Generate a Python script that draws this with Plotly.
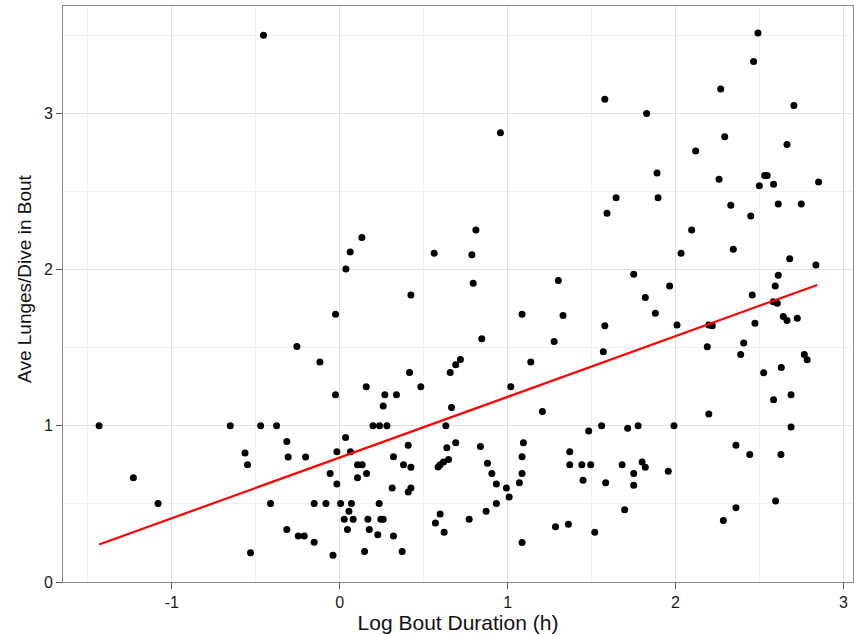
import plotly.graph_objects as go

log_bout_duration = [
    -0.454, 1.579, 0.957, 1.592, 0.132, 0.0625, 0.037, 0.811, 0.5625, 0.787, 0.795, 1.302, 0.424,
    2.491, 2.465, 2.269, 1.828, 2.705, 2.293, 2.120, 2.664, 1.890, 2.259, 2.531, 2.546, 2.499, 2.584,
    2.852, 1.646, 1.896, 2.329, 2.612, 2.749, 2.448, 2.096, 2.033, 2.344, 2.680, 2.836, 1.751, 2.612,
    1.965, 2.594, 1.820, 2.457,
    -0.025, -0.255, -0.118, -0.025, -1.433, -0.652, -0.471, -0.376, -0.315, -0.564, -0.307, -0.203,
    -0.549, -0.017, -0.057, -0.017, -1.229, -1.082, -0.412, -0.152, -0.082, 0.005, -0.315, -0.247,
    -0.211, -0.152, -0.531, -0.040,
    1.086, 1.330, 1.579, 0.846, 1.277, 1.570, 0.719, 0.691, 0.658, 0.416, 1.138, 0.158, 0.483, 1.019,
    0.269, 0.338, 0.259, 0.666, 1.207, 0.198, 0.237, 0.281, 0.632, 1.560, 1.483, 0.035, 0.408, 0.838,
    1.094, 0.691, 0.064, 1.370, 0.638, 0.320, 1.086, 0.648, 0.618, 0.598, 0.586, 0.106, 0.134, 0.380,
    0.424, 0.880, 1.370, 1.442, 1.495, 0.160, 0.906, 1.086, 0.106, 1.449, 1.070, 0.933, 1.584, 0.3125,
    0.424, 0.408, 0.993, 1.009, 0.070, 0.235, 0.933, 0.055, 0.027, 0.080, 0.168, 0.245, 0.259, 0.598,
    0.570, 0.771, 0.872, 0.046, 0.176, 0.227, 0.320, 0.622, 1.285, 1.362, 1.519, 1.086, 0.148, 0.372,
    2.582, 2.606, 1.880, 2.009, 2.198, 2.219, 2.473, 2.642, 2.664, 2.725, 2.189, 2.406, 2.388, 2.767,
    2.784, 2.525, 2.630, 2.584, 2.688, 2.198, 1.715, 1.777, 1.991, 2.688, 2.360, 2.442, 2.628, 1.682,
    1.801, 1.820, 1.751, 1.957, 1.751, 1.697, 2.360, 2.596, 2.285,
]

ave_lunges_per_dive = [
    3.50, 3.091, 2.876, 2.361, 2.205, 2.113, 2.004, 2.254, 2.105, 2.096, 1.913, 1.930, 1.838,
    3.515, 3.332, 3.157, 3.0, 3.051, 2.851, 2.759, 2.802, 2.618, 2.578, 2.603, 2.603, 2.537, 2.546,
    2.561, 2.460, 2.460, 2.412, 2.420, 2.420, 2.343, 2.254, 2.105, 2.130, 2.070, 2.030, 1.971, 1.964,
    1.896, 1.896, 1.821, 1.838,
    1.715, 1.508, 1.408, 1.199, 1.0, 1.0, 1.0, 1.0, 0.900, 0.826, 0.800, 0.800,
    0.751, 0.834, 0.694, 0.628, 0.668, 0.502, 0.502, 0.502, 0.502, 0.502, 0.336, 0.295,
    0.295, 0.255, 0.187, 0.172,
    1.715, 1.706, 1.640, 1.557, 1.540, 1.474, 1.425, 1.391, 1.341, 1.341, 1.408, 1.250, 1.250, 1.250,
    1.199, 1.199, 1.127, 1.118, 1.092, 1.0, 1.0, 1.0, 1.0, 1.0, 0.967, 0.926, 0.875, 0.868,
    0.892, 0.892, 0.834, 0.834, 0.860, 0.802, 0.802, 0.785, 0.769, 0.751, 0.737, 0.751, 0.751, 0.751,
    0.734, 0.760, 0.751, 0.751, 0.751, 0.694, 0.694, 0.694, 0.668, 0.651, 0.636, 0.628, 0.636, 0.602,
    0.602, 0.577, 0.602, 0.545, 0.502, 0.502, 0.502, 0.453, 0.402, 0.402, 0.402, 0.402, 0.402, 0.436,
    0.378, 0.402, 0.453, 0.336, 0.336, 0.302, 0.295, 0.318, 0.353, 0.370, 0.318, 0.253, 0.195, 0.195,
    1.795, 1.785, 1.721, 1.646, 1.646, 1.640, 1.657, 1.700, 1.674, 1.689, 1.506, 1.531, 1.457, 1.457,
    1.423, 1.340, 1.374, 1.167, 1.199, 1.075, 0.984, 1.0, 1.0, 0.992, 0.875, 0.817, 0.817, 0.751,
    0.769, 0.734, 0.694, 0.709, 0.619, 0.462, 0.476, 0.519, 0.393,
]

fit_x = [-1.433, 2.844]
fit_y = [0.240, 1.902]

x_ticks = [-1, 0, 1, 2, 3]
x_tick_labels = ["-1", "0", "1", "2", "3"]
y_ticks = [0, 1, 2, 3]
y_tick_labels = ["0", "1", "2", "3"]

x_title = "Log Bout Duration (h)"
y_title = "Ave Lunges/Dive in Bout"

FONT = "Liberation Sans, Arial, sans-serif"

fig = go.Figure()
fig.add_trace(go.Scatter(
    x=log_bout_duration, y=ave_lunges_per_dive, mode="markers",
    marker=dict(color="black", size=7, line=dict(width=0)),
    showlegend=False, hoverinfo="x+y",
))
fig.add_trace(go.Scatter(
    x=fit_x, y=fit_y, mode="lines",
    line=dict(color="#ff0000", width=2.2),
    showlegend=False,
))

axis_common = dict(
    showline=True, linecolor="#8a8a8a", linewidth=1, mirror=True,
    showgrid=True, gridcolor="#e2e2e2", gridwidth=1,
    zeroline=False,
    ticks="outside", ticklen=6, tickcolor="#555555", tickwidth=1,
    tickfont=dict(family=FONT, size=16, color="#1a1a1a"),
    minor=dict(showgrid=True, gridcolor="#f2f2f2", dtick=0.5, tick0=0.5, ticks=""),
)

fig.update_xaxes(
    range=[-1.648, 3.057], tickvals=x_ticks, ticktext=x_tick_labels,
    title=dict(text=x_title, font=dict(family=FONT, size=21, color="#111111"), standoff=5),
    **axis_common,
)
fig.update_yaxes(
    range=[0, 3.688], tickvals=y_ticks, ticktext=y_tick_labels,
    **axis_common,
)

fig.add_annotation(
    text=y_title, textangle=-90,
    xref="paper", x=0, xanchor="center", xshift=-38,
    yref="paper", y=(582.5 - 279) / 576.8, yanchor="middle",
    showarrow=False,
    font=dict(family=FONT, size=19, color="#111111"),
)

fig.update_layout(
    width=854, height=635,
    margin=dict(l=63, r=1, t=6, b=53, autoexpand=False),
    plot_bgcolor="white", paper_bgcolor="white",
)

fig.write_html(
    "out.html",
    config={"displayModeBar": False},
    post_script="document.body.style.margin='0px';",
)
